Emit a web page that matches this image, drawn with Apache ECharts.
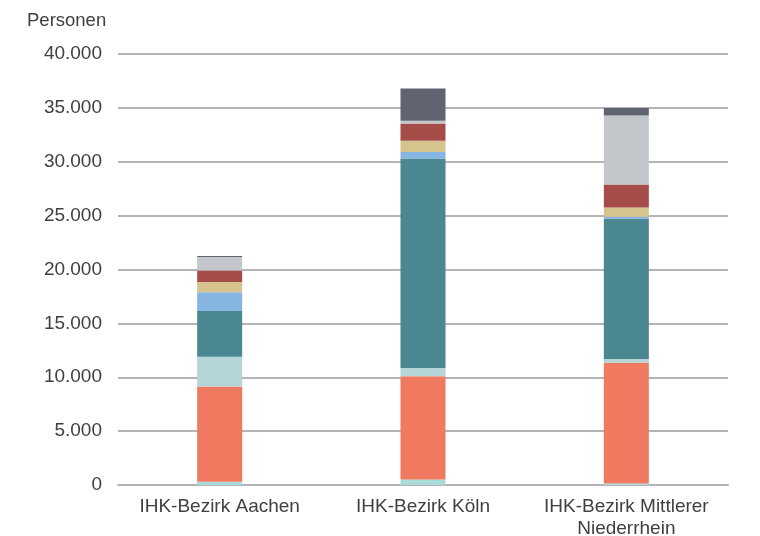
<!DOCTYPE html>
<html>
<head>
<meta charset="utf-8">
<script src="https://cdn.jsdelivr.net/npm/echarts@6/dist/echarts.min.js"></script>
<style>
    html, body { margin: 0; padding: 0; background: #fff; overflow: hidden; }
    #chart { width: 760px; height: 536px; }
</style>
</head>
<body>
<div id="chart"></div>
<script>
    // Kategorien (x-Achse)
    var categories = ['IHK-Bezirk Aachen', 'IHK-Bezirk Köln', 'IHK-Bezirk Mittlerer\nNiederrhein'];
    // Segmente von unten nach oben, Werte in Personen
    var segCyan = [300, 500, 150];
    var segOrange = [8850, 9600, 11200];
    var segLightTeal = [2750, 750, 350];
    var segTeal = [4250, 19450, 13000];
    var segLightBlue = [1750, 600, 200];
    var segTan = [950, 1050, 850];
    var segRed = [1050, 1600, 2150];
    var segLightGray = [1250, 250, 6400];
    var segDarkGray = [100, 3000, 700];
    var yTicks = [0, 5000, 10000, 15000, 20000, 25000, 30000, 35000, 40000];

    var seriesList = [
        { data: segCyan, color: '#a9dbdb' },
        { data: segOrange, color: '#f07a60' },
        { data: segLightTeal, color: '#b6d5d8' },
        { data: segTeal, color: '#4a8790' },
        { data: segLightBlue, color: '#86b5e1' },
        { data: segTan, color: '#d6c48f' },
        { data: segRed, color: '#a64c48' },
        { data: segLightGray, color: '#c3c7cb' },
        { data: segDarkGray, color: '#5f6470' }
    ];

    function fmt(v) {
        return String(v).replace(/\B(?=(\d{3})+(?!\d))/g, '.');
    }

    var chart = echarts.init(document.getElementById('chart'));
    chart.setOption({
        animation: false,
        textStyle: { fontFamily: '"Liberation Sans", Arial, sans-serif' },
        // v6: sonst schrumpft das Grid, damit die Beschriftung passt
        grid: { left: 118, right: 32, top: 54, height: 431, containLabel: false, outerBoundsMode: 'none' },
        graphic: [{
            type: 'text', left: 27, top: 11,
            style: { text: 'Personen', font: '18.5px "Liberation Sans", Arial, sans-serif', fill: '#404040' }
        }],
        xAxis: {
            type: 'category',
            data: categories,
            axisLine: { lineStyle: { color: '#b4b4b4', width: 2 } },
            axisTick: { show: false },
            axisLabel: { color: '#404040', fontSize: 19, margin: 11, lineHeight: 22, interval: 0 }
        },
        yAxis: {
            type: 'value',
            min: yTicks[0],
            max: yTicks[yTicks.length - 1],
            interval: 5000,
            axisLine: { show: false },
            axisTick: { show: false },
            splitLine: { lineStyle: { color: '#b4b4b4', width: 2 } },
            axisLabel: { color: '#404040', fontSize: 19, margin: 16, formatter: fmt }
        },
        series: seriesList.map(function (s) {
            return {
                type: 'bar',
                stack: 'total',
                barWidth: 45,
                data: s.data,
                itemStyle: { color: s.color }
            };
        })
    });
</script>
</body>
</html>
